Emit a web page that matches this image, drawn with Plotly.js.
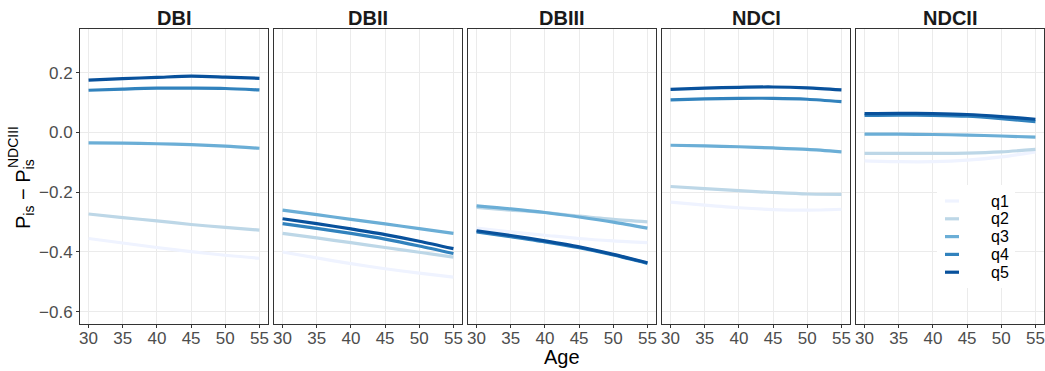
<!DOCTYPE html>
<html>
<head>
<meta charset="utf-8">
<script src="https://cdn.plot.ly/plotly-3.0.1.min.js"></script>
<style>
  html, body { margin: 0; padding: 0; background: #fff; }
  #chart { width: 1045px; height: 371px; }
</style>
</head>
<body>
<div id="chart"></div>
<script>
// Ages on the horizontal axis
const ages = [30, 35, 40, 45, 50, 55];
// Income quintile groups and their colours (Blues)
const quintiles = ['q1', 'q2', 'q3', 'q4', 'q5'];
const blues = ['#eff3ff', '#bdd7e7', '#6baed6', '#3182bd', '#08519c'];
// Pension scheme panels
const panelNames = ['DBI', 'DBII', 'DBIII', 'NDCI', 'NDCII'];
const xTicks = [30, 35, 40, 45, 50, 55];
const yTicks = [-0.6, -0.4, -0.2, 0.0, 0.2];

// Difference P_is - P_is^NDCIII by quintile (rows q1..q5), per scheme
const DBI = [
  [-0.355, -0.370, -0.385, -0.399, -0.411, -0.421],
  [-0.273, -0.285, -0.296, -0.308, -0.318, -0.327],
  [-0.035, -0.036, -0.038, -0.041, -0.046, -0.053],
  [0.141, 0.145, 0.148, 0.148, 0.147, 0.142],
  [0.175, 0.180, 0.184, 0.188, 0.185, 0.181]
];
const DBII = [
  [-0.400, -0.420, -0.439, -0.456, -0.471, -0.484],
  [-0.338, -0.353, -0.369, -0.385, -0.401, -0.417],
  [-0.260, -0.275, -0.291, -0.306, -0.322, -0.338],
  [-0.305, -0.321, -0.338, -0.357, -0.380, -0.405],
  [-0.289, -0.305, -0.323, -0.342, -0.364, -0.389]
];
const DBIII = [
  [-0.320, -0.333, -0.344, -0.355, -0.363, -0.369],
  [-0.251, -0.260, -0.268, -0.280, -0.291, -0.299],
  [-0.246, -0.256, -0.268, -0.283, -0.300, -0.320],
  [-0.333, -0.349, -0.366, -0.386, -0.410, -0.438],
  [-0.329, -0.345, -0.363, -0.383, -0.408, -0.436]
];
const NDCI = [
  [-0.233, -0.243, -0.252, -0.258, -0.260, -0.257],
  [-0.181, -0.188, -0.195, -0.201, -0.206, -0.207],
  [-0.043, -0.045, -0.048, -0.052, -0.057, -0.065],
  [0.109, 0.112, 0.114, 0.114, 0.111, 0.103],
  [0.144, 0.148, 0.151, 0.152, 0.149, 0.142]
];
const NDCII = [
  [-0.095, -0.098, -0.098, -0.093, -0.082, -0.065],
  [-0.070, -0.070, -0.070, -0.069, -0.065, -0.057],
  [-0.006, -0.006, -0.007, -0.009, -0.012, -0.016],
  [0.057, 0.058, 0.057, 0.054, 0.046, 0.036],
  [0.063, 0.064, 0.063, 0.060, 0.053, 0.044]
];
const panelData = [DBI, DBII, DBIII, NDCI, NDCII];

const FONT = 'Liberation Sans, Arial, Helvetica, sans-serif';
const W = 1045, H = 371;
const M = { l: 80, r: 1, t: 29, b: 47 };
const plotW = W - M.l - M.r, plotH = H - M.t - M.b;
const panelW = 188, panelStep = 194;
const px = v => (v - M.l) / plotW;         // pixel x -> paper x
const py = v => (M.t + plotH - v) / plotH; // pixel y -> paper y

const traces = [];
const layout = {
  width: W, height: H,
  margin: M,
  paper_bgcolor: '#ffffff',
  plot_bgcolor: '#ffffff',
  showlegend: false,
  font: { family: FONT, color: '#4d4d4d' },
  annotations: [],
  shapes: []
};

panelNames.forEach((name, p) => {
  const sfx = p === 0 ? '' : String(p + 1);
  const x0 = p * panelStep / plotW, x1 = (p * panelStep + panelW) / plotW;
  layout['xaxis' + sfx] = {
    domain: [x0, x1],
    anchor: 'y' + sfx,
    range: [28.75, 56.25],
    tickvals: xTicks,
    ticks: 'outside', ticklen: 3, tickwidth: 1, tickcolor: '#333333',
    ticklabelstandoff: -4,
    tickfont: { size: 17, color: '#4d4d4d', family: FONT },
    showgrid: true, gridcolor: '#ebebeb', gridwidth: 1,
    zeroline: false,
    showline: true, mirror: true, linecolor: '#333333', linewidth: 1
  };
  layout['yaxis' + sfx] = {
    domain: [0, 1],
    anchor: 'x' + sfx,
    range: [-0.641, 0.346],
    tickvals: yTicks,
    tickformat: '.1f',
    ticks: p === 0 ? 'outside' : '', ticklen: 3, tickwidth: 1, tickcolor: '#333333',
    showticklabels: p === 0,
    tickfont: { size: 17, color: '#4d4d4d', family: FONT },
    showgrid: true, gridcolor: '#ebebeb', gridwidth: 1,
    zeroline: false,
    showline: true, mirror: true, linecolor: '#333333', linewidth: 1
  };
  // Panel heading
  layout.annotations.push({
    text: '<b>' + name + '</b>',
    xref: 'x' + sfx + ' domain', yref: 'paper',
    x: 0.5, y: py(18), xanchor: 'center', yanchor: 'middle',
    showarrow: false,
    font: { size: 20, color: '#1a1a1a', family: FONT }
  });
  // One line per quintile
  panelData[p].forEach((vals, q) => {
    traces.push({
      type: 'scatter', mode: 'lines',
      x: ages, y: vals,
      xaxis: 'x' + sfx, yaxis: 'y' + sfx,
      name: quintiles[q],
      line: { color: blues[q], width: 3.2, shape: 'spline', smoothing: 0.8 },
      hoverinfo: 'skip'
    });
  });
});

// Axis titles
layout.annotations.push({
  text: 'Age', xref: 'paper', yref: 'paper',
  x: 0.5, y: py(357), xanchor: 'center', yanchor: 'middle',
  showarrow: false, font: { size: 20, color: '#000000', family: FONT }
});
layout.annotations.push({
  text: 'P<sub>is</sub> − P<sub>is</sub>', xref: 'paper', yref: 'paper',
  x: px(24), y: py(194), xanchor: 'center', yanchor: 'middle', textangle: -90,
  showarrow: false, font: { size: 20, color: '#000000', family: FONT }
});
layout.annotations.push({
  text: 'NDCIII', xref: 'paper', yref: 'paper',
  x: px(13), y: py(147), xanchor: 'center', yanchor: 'middle', textangle: -90,
  showarrow: false, font: { size: 14, color: '#000000', family: FONT }
});

// Key inside the last panel
layout.shapes.push({
  type: 'rect', xref: 'paper', yref: 'paper', layer: 'above',
  x0: px(937), x1: px(1015), y0: py(185), y1: py(288),
  fillcolor: '#ffffff', line: { width: 0 }
});
quintiles.forEach((q, i) => {
  const yc = 201 + i * 17.8;
  layout.shapes.push({
    type: 'line', xref: 'paper', yref: 'paper', layer: 'above',
    x0: px(945), x1: px(959), y0: py(yc), y1: py(yc),
    line: { color: blues[i], width: 3.2 }
  });
  layout.annotations.push({
    text: q, xref: 'paper', yref: 'paper',
    x: px(989), y: py(yc), xanchor: 'left', yanchor: 'middle',
    showarrow: false, font: { size: 16, color: '#000000', family: FONT }
  });
});

Plotly.newPlot('chart', traces, layout, { staticPlot: true, displayModeBar: false });
</script>
</body>
</html>
